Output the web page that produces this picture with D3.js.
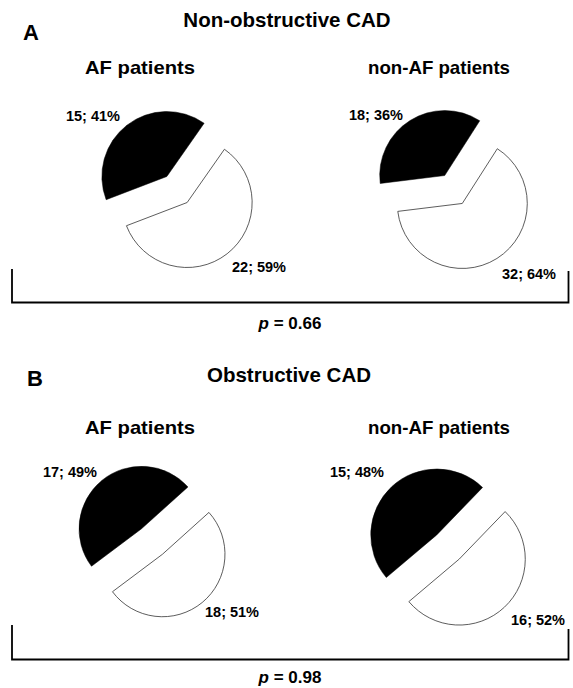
<!DOCTYPE html>
<html>
<head>
<meta charset="utf-8">
<script src="https://cdn.jsdelivr.net/npm/d3@7/dist/d3.min.js"></script>
<style>
  html, body { margin: 0; padding: 0; background: #fff; }
  svg { display: block; font-family: "Liberation Sans", Arial, Helvetica, sans-serif; }
  text { font-weight: bold; fill: #000; }
</style>
</head>
<body>
<svg id="chart" width="573" height="688"></svg>
<script>
// ---- data ----
const panelLetters = ["A", "B"];
const panelTitles = ["Non-obstructive CAD", "Obstructive CAD"];
const cohorts = ["AF patients", "non-AF patients"];
// order: [A-AF, A-nonAF, B-AF, B-nonAF]
const blackCounts = [15, 18, 17, 15];
const blackPercents = [41, 36, 49, 48];
const whiteCounts = [22, 32, 18, 16];
const whitePercents = [59, 64, 51, 52];
const pValues = ["0.66", "0.98"];

// ---- layout (positions/styles only) ----
const W = 573, H = 688;
const panelLayout = [
  { letterX: 23, letterY: 40, titleX: 287, titleY: 27, subY: 74, bracketTop: [269, 271], bracketY: 302.5, pY: 329 },
  { letterX: 27, letterY: 386, titleX: 289, titleY: 382, subY: 434, bracketTop: [625, 629], bracketY: 659.5, pY: 683 }
];
const subX = [140, 439];
const subLen = [110, 142];
const pieLayout = [
  { cx: 177, cy: 189.5, r: 65, whiteStart: 35, bl: [120, 121], wl: [232, 272] },
  { cx: 453.5, cy: 189.5, r: 65, whiteStart: 32.6, bl: [403, 120], wl: [502, 279] },
  { cx: 152, cy: 541.5, r: 62.5, whiteStart: 48, bl: [97, 477], wl: [205, 617] },
  { cx: 448, cy: 547, r: 66, whiteStart: 44, bl: [384, 477], wl: [511, 625] }
];
const explode = 16.5;
const bracketX = [12, 568.5];

const svg = d3.select("#chart");
const rad = d => d * Math.PI / 180;

// panels
panelLetters.forEach((letter, i) => {
  const L = panelLayout[i];
  svg.append("text").attr("x", L.letterX).attr("y", L.letterY)
    .attr("font-size", 22).text(letter);
  svg.append("text").attr("x", L.titleX).attr("y", L.titleY)
    .attr("text-anchor", "middle").attr("font-size", 20.5).text(panelTitles[i]);
  cohorts.forEach((c, j) => {
    svg.append("text").attr("x", subX[j]).attr("y", L.subY)
      .attr("text-anchor", "middle").attr("font-size", 18.5)
      .attr("textLength", subLen[j]).attr("lengthAdjust", "spacingAndGlyphs")
      .text(c);
  });
  // bracket
  const path = d3.path();
  path.moveTo(bracketX[0], L.bracketTop[0]);
  path.lineTo(bracketX[0], L.bracketY);
  path.lineTo(bracketX[1], L.bracketY);
  path.lineTo(bracketX[1], L.bracketTop[1]);
  svg.append("path").attr("d", path.toString())
    .attr("fill", "none").attr("stroke", "#000").attr("stroke-width", 1.8);
  const pt = svg.append("text").attr("x", 290).attr("y", L.pY)
    .attr("text-anchor", "middle").attr("font-size", 17);
  pt.append("tspan").attr("font-style", "italic").text("p");
  pt.append("tspan").text(" = " + pValues[i]);
});

// pies
const pie = d3.pie().sort(null).value(d => d.value);
pieLayout.forEach((P, k) => {
  const data = [
    { key: "white", value: whiteCounts[k] },
    { key: "black", value: blackCounts[k] }
  ];
  const arcs = pie.startAngle(rad(P.whiteStart)).endAngle(rad(P.whiteStart) + 2 * Math.PI)(data);
  const arc = d3.arc().innerRadius(0).outerRadius(P.r);
  const g = svg.append("g").attr("transform", `translate(${P.cx},${P.cy})`);
  arcs.forEach(a => {
    const mid = (a.startAngle + a.endAngle) / 2;
    const dx = Math.sin(mid) * explode, dy = -Math.cos(mid) * explode;
    g.append("path")
      .attr("d", arc(a))
      .attr("transform", `translate(${dx},${dy})`)
      .attr("fill", a.data.key === "black" ? "#000" : "#fff")
      .attr("stroke", a.data.key === "black" ? "#000" : "#333")
      .attr("stroke-width", a.data.key === "black" ? 0.5 : 0.8);
  });
  svg.append("text").attr("x", P.bl[0]).attr("y", P.bl[1])
    .attr("text-anchor", "end").attr("font-size", 14.5)
    .text(`${blackCounts[k]}; ${blackPercents[k]}%`);
  svg.append("text").attr("x", P.wl[0]).attr("y", P.wl[1])
    .attr("text-anchor", "start").attr("font-size", 14.5)
    .text(`${whiteCounts[k]}; ${whitePercents[k]}%`);
});
</script>
</body>
</html>
